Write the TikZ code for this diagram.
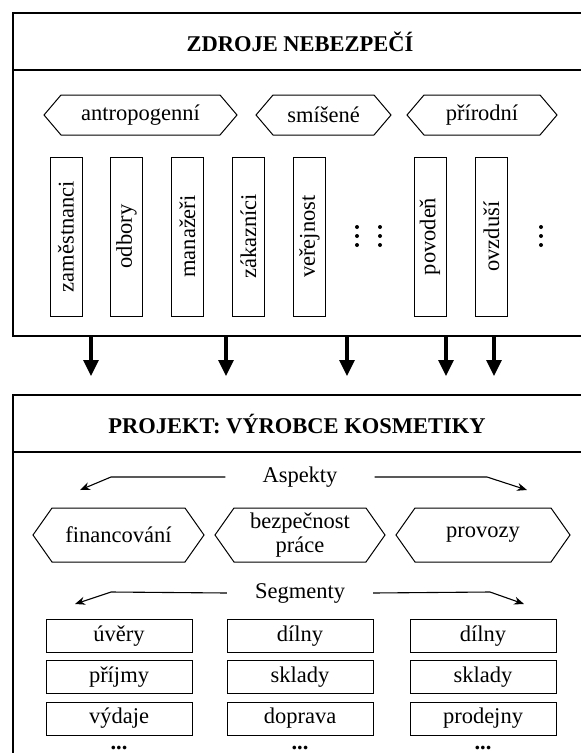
\documentclass[tikz,border=0pt]{standalone}
\usepackage{fontspec}
\setmainfont{Liberation Serif}
\usetikzlibrary{arrows.meta}
\newcommand\hexshape[5]{%
  \draw[hex] ({#1-#3},{#2}) -- ({#1-#3+#5},{#2-#4}) -- ({#1+#3-#5},{#2-#4}) -- ({#1+#3},{#2}) -- ({#1+#3-#5},{#2+#4}) -- ({#1-#3+#5},{#2+#4}) -- cycle;}
\begin{document}
\begin{tikzpicture}[x=1pt,y=-1pt,
  txt/.style={font=\fontsize{22.5}{24}\selectfont, inner sep=0pt},
  hdr/.style={font=\fontsize{22.5}{25}\selectfont\bfseries, inner sep=0pt},
  vbox/.style={draw, line width=1pt, rotate=90, minimum width=159pt, minimum height=32pt, inner sep=0pt, font=\fontsize{22.5}{25}\selectfont},
  sbox/.style={draw, line width=1pt, minimum width=146pt, minimum height=33pt, inner sep=0pt, font=\fontsize{22.5}{25}\selectfont},
  frame/.style={line width=1.3pt},
  bigarrow/.style={line width=3.2pt, -{Triangle[width=15pt,length=16pt]}},
  thinarrow/.style={line width=1.1pt, -{Stealth[width=8pt,length=10pt]}},
  hex/.style={line width=1pt, line join=miter},
]
\useasboundingbox (0,0) rectangle (581,753);
\clip (0,0) rectangle (581,753);

% ---------- top frame ----------
\draw[frame] (600,13) -- (13,13) -- (13,336) -- (600,336);
\draw[frame] (13,70) -- (600,70);
\node[hdr] (zdroje) at (300,42) {ZDROJE NEBEZPEČÍ};

% hexagons row 1
\node[txt] (antro) at (140.5,115) {antropogenní};
\hexshape{140.5}{115}{96.5}{20}{17}
\node[txt] (smis) at (323.5,115) {smíšené};
\hexshape{323.5}{115}{67.5}{20}{17}
\node[txt] (prir) at (482,115) {přírodní};
\hexshape{482}{115}{75}{20}{17}

% vertical boxes
\node[vbox] (v1) at (66,236.5) {zaměstnanci};
\node[vbox] (v2) at (126.5,236.5) {odbory};
\node[vbox] (v3) at (187.5,236.5) {manažeři};
\node[vbox] (v4) at (248.5,236.5) {zákazníci};
\node[vbox] (v5) at (309.5,236.5) {veřejnost};
\node[vbox] (v6) at (430,236.5) {povodeň};
\node[vbox] (v7) at (491.5,236.5) {ovzduší};
\foreach \x in {357,380,541}
  \foreach \y in {227,236,245}
    \fill (\x,\y) circle[radius=2pt];

% ---------- arrows between frames ----------
\foreach \i/\x in {1/91,2/226,3/347,4/446,5/494} {
  \coordinate (s\i) at (\x,336);
  \coordinate (e\i) at (\x,376);
  \draw[bigarrow] (s\i) -- (e\i);
}

% ---------- bottom frame ----------
\draw[frame] (600,395) -- (13,395) -- (13,760);
\draw[frame] (13,452) -- (600,452);
\node[hdr] (proj) at (297,424) {PROJEKT: VÝROBCE KOSMETIKY};

% Aspekty
\node[txt, inner xsep=37pt] (asp) at (300,477) {Aspekty};
\coordinate (aspL) at (80,490);
\coordinate (aspR) at (527,490);
\draw[thinarrow] (asp.west) -- (111,477) -- (aspL);
\draw[thinarrow] (asp.east) -- (487,477) -- (aspR);

% hexagons row 2
\node[txt] (fin) at (118.5,535) {financování};
\hexshape{118.5}{535}{85.5}{27}{19}
\node[txt, align=center] (bez) at (300,535) {bezpečnost\\práce};
\hexshape{300}{535}{85}{27}{19}
\node[txt] (prov) at (483,535) {provozy};
\hexshape{483}{535}{87}{27}{19}

% Segmenty
\node[txt, inner xsep=28pt] (seg) at (300,593) {Segmenty};
\coordinate (segL) at (75,604);
\coordinate (segR) at (524,604);
\draw[thinarrow] (seg.west) -- (111,592) -- (segL);
\draw[thinarrow] (seg.east) -- (490,592) -- (segR);

% segment boxes
\node[sbox] (a1) at (119,636) {úvěry};
\node[sbox] (a2) at (119,677) {příjmy};
\node[sbox] (a3) at (119,718.5) {výdaje};
\node[sbox] (b1) at (300,636) {dílny};
\node[sbox] (b2) at (300,677) {sklady};
\node[sbox] (b3) at (300,718.5) {doprava};
\node[sbox] (c1) at (483,636) {dílny};
\node[sbox] (c2) at (483,677) {sklady};
\node[sbox] (c3) at (483,718.5) {prodejny};
\node[hdr, anchor=base] (d1) at (119,749.5) {...};
\node[hdr, anchor=base] (d2) at (300,749.5) {...};
\node[hdr, anchor=base] (d3) at (483,749.5) {...};
\end{tikzpicture}
\end{document}
